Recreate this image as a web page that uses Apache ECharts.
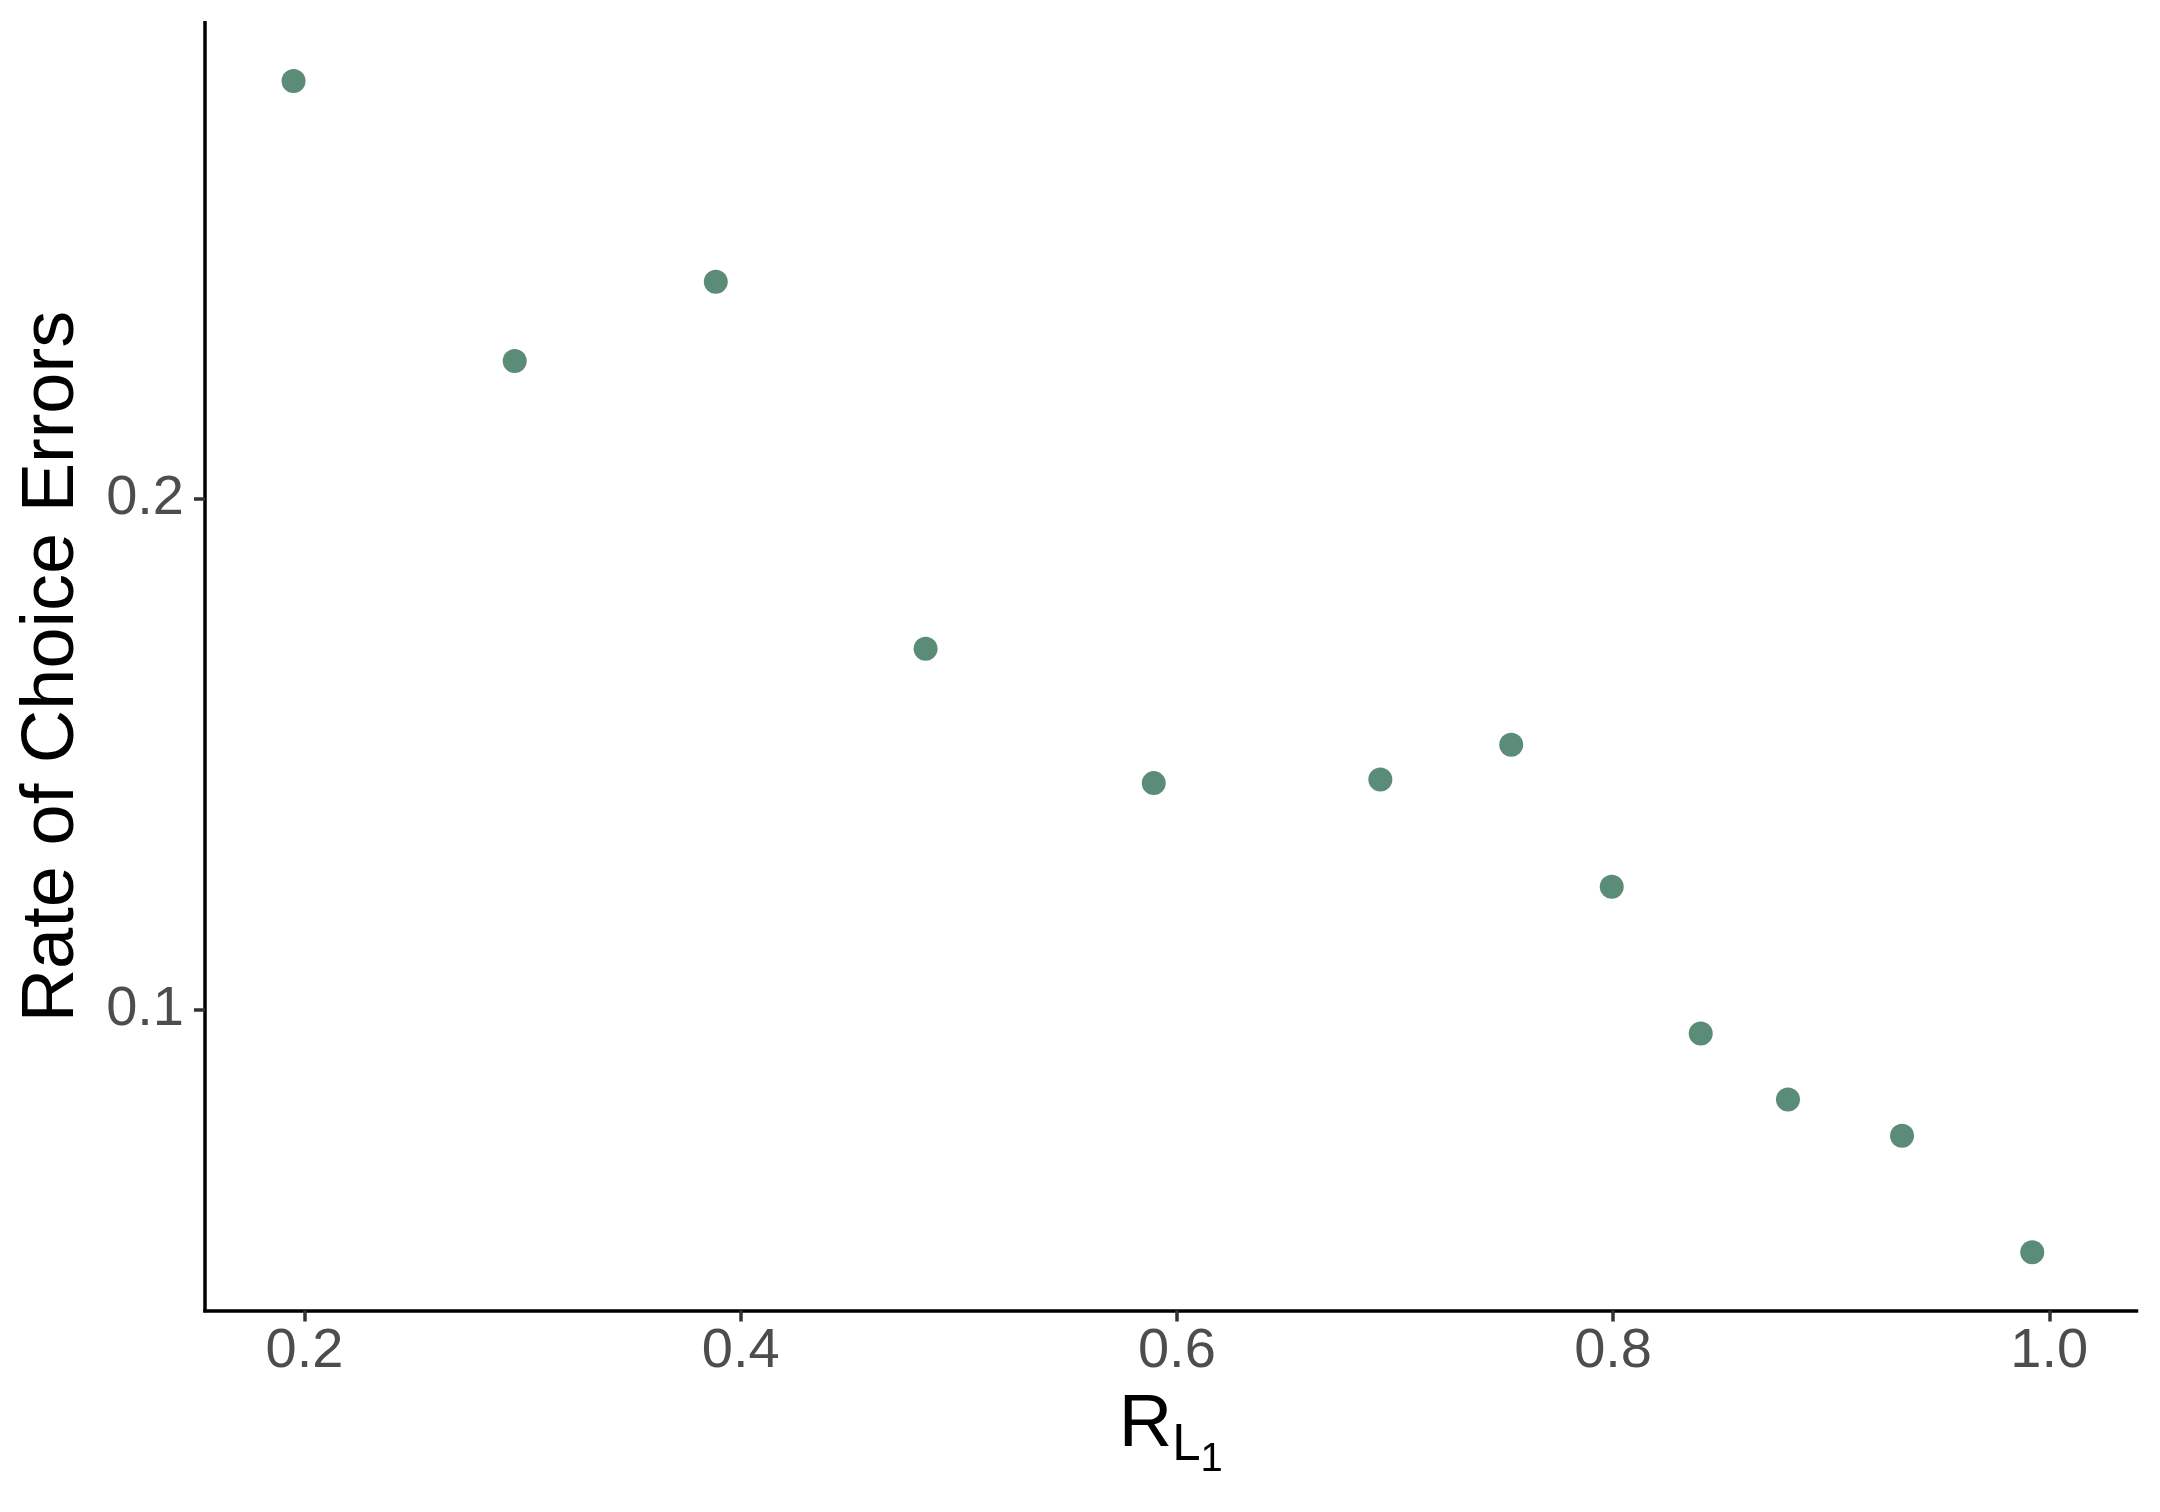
<!DOCTYPE html>
<html>
<head>
    <meta charset="UTF-8">
    <title>Rate of Choice Errors</title>
    <script type="text/javascript" src="https://cdn.jsdelivr.net/npm/echarts@6/dist/echarts.min.js"></script>
</head>
<body style="margin:0;background:#fff;">
    <div id="main" style="width:2160px;height:1512px;"></div>
    <script type="text/javascript">
    // values
    var rL1 = [0.195, 0.2964, 0.3886, 0.4848, 0.5894, 0.6933, 0.7533, 0.7994, 0.8402, 0.8802, 0.9325, 0.9922];
    var errRate = [0.2818, 0.2270, 0.2425, 0.1707, 0.1444, 0.1451, 0.1519, 0.1241, 0.0954, 0.0825, 0.0754, 0.0526];
    var xTicks = [0.2, 0.4, 0.6, 0.8, 1.0];
    var yTicks = [0.1, 0.2];

    var font = "'Liberation Sans', Arial, Helvetica, sans-serif";
    var dotColor = '#5A8C78';
    var labelGrey = '#4D4D4D';

    var points = rL1.map(function (x, i) { return [x, errRate[i]]; });

    var axisLine = {show: true, onZero: false, lineStyle: {color: '#000', width: 3.5, cap: 'square'}};
    var axisTick = function (vals) {
        return {show: true, length: 11, customValues: vals, lineStyle: {color: '#333', width: 3.5}};
    };
    var axisLabel = function (vals, margin) {
        return {
            customValues: vals, margin: margin,
            color: labelGrey, fontSize: 56, fontFamily: font,
            formatter: function (v) { return v.toFixed(1); }
        };
    };

    var option = {
        backgroundColor: '#fff',
        animation: false,
        grid: {left: 205, right: 23.5, top: 22.7, bottom: 201.5},
        xAxis: {
            type: 'value',
            min: 0.1544, max: 1.040,
            axisLine: axisLine,
            axisTick: axisTick(xTicks),
            axisLabel: axisLabel(xTicks, 13),
            splitLine: {show: false},
            name: '{r|R}{l|L}{n|1}',
            nameLocation: 'middle',
            nameGap: 62,
            nameTextStyle: {
                rich: {
                    r: {fontSize: 74, fontFamily: font, color: '#000'},
                    l: {fontSize: 51, fontFamily: font, color: '#000', padding: [40, 0, 0, 0]},
                    n: {fontSize: 40, fontFamily: font, color: '#000', padding: [67, 0, 0, 0]}
                }
            }
        },
        yAxis: {
            type: 'value',
            min: 0.0412, max: 0.2932,
            axisLine: axisLine,
            axisTick: axisTick(yTicks),
            axisLabel: axisLabel(yTicks, 21),
            splitLine: {show: false},
            name: 'Rate of Choice Errors',
            nameLocation: 'middle',
            nameRotate: 90,
            nameGap: 115,
            nameTextStyle: {fontSize: 74, fontFamily: font, color: '#000'}
        },
        series: [{
            type: 'scatter',
            data: points,
            symbol: 'circle',
            symbolSize: 24,
            itemStyle: {color: dotColor, opacity: 1}
        }]
    };

    var myChart = echarts.init(document.getElementById('main'));
    myChart.setOption(option);
    </script>
</body>
</html>
